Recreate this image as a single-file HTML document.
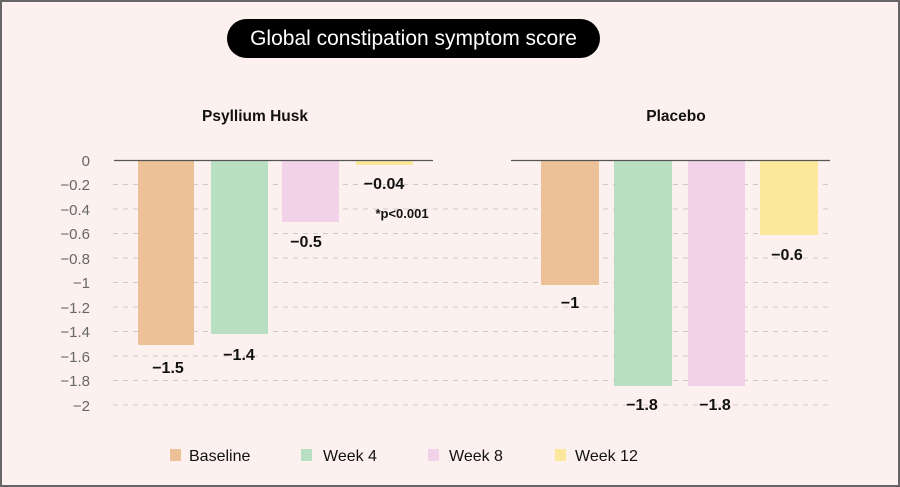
<!DOCTYPE html>
<html><head><meta charset="utf-8"><style>
html,body{margin:0;padding:0;}
body{width:900px;height:487px;overflow:hidden;background:#fdf1ef;}
svg{display:block;font-family:"Liberation Sans",sans-serif;}
</style></head><body>
<svg width="900" height="487" viewBox="0 0 900 487" xmlns="http://www.w3.org/2000/svg">
<rect x="1" y="1" width="898" height="485" fill="#fdf1ef" stroke="#666" stroke-width="2"/>
<rect x="227" y="19" width="373" height="39" rx="19.5" fill="#000"/>
<text x="413.5" y="45" font-size="21" fill="#fff" text-anchor="middle">Global constipation symptom score</text>
<text x="255" y="121" font-size="15.5" font-weight="bold" text-anchor="middle" fill="#111">Psyllium Husk</text>
<text x="676" y="121" font-size="15.5" font-weight="bold" text-anchor="middle" fill="#111">Placebo</text>
<g stroke="#cfcaca" stroke-width="1" stroke-dasharray="5,5">
<line x1="113" x2="831" y1="184.5" y2="184.5"/>
<line x1="113" x2="831" y1="209" y2="209"/>
<line x1="113" x2="831" y1="233.5" y2="233.5"/>
<line x1="113" x2="831" y1="258" y2="258"/>
<line x1="113" x2="831" y1="282.5" y2="282.5"/>
<line x1="113" x2="831" y1="307" y2="307"/>
<line x1="113" x2="831" y1="331.5" y2="331.5"/>
<line x1="113" x2="831" y1="356" y2="356"/>
<line x1="113" x2="831" y1="380.5" y2="380.5"/>
<line x1="113" x2="831" y1="405" y2="405"/>
</g>
<g font-size="15" fill="#666" text-anchor="end">
<text x="90" y="166">0</text>
<text x="90" y="190">−0.2</text>
<text x="90" y="215">−0.4</text>
<text x="90" y="239">−0.6</text>
<text x="90" y="264">−0.8</text>
<text x="90" y="288">−1</text>
<text x="90" y="313">−1.2</text>
<text x="90" y="337">−1.4</text>
<text x="90" y="362">−1.6</text>
<text x="90" y="386">−1.8</text>
<text x="90" y="411">−2</text>
</g>
<rect x="138" y="160" width="56" height="185" fill="#ecc197"/>
<rect x="211" y="160" width="57" height="174" fill="#b8dfc1"/>
<rect x="282" y="160" width="57" height="62" fill="#f1d2e8"/>
<rect x="356" y="160" width="57" height="5" fill="#fce89a"/>
<rect x="541" y="160" width="58" height="125" fill="#ecc197"/>
<rect x="614" y="160" width="58" height="226" fill="#b8dfc1"/>
<rect x="688" y="160" width="57" height="226" fill="#f1d2e8"/>
<rect x="760" y="160" width="58" height="75" fill="#fce89a"/>
<line x1="114" x2="433" y1="160.5" y2="160.5" stroke="#555" stroke-width="1.3"/>
<line x1="511" x2="830" y1="160.5" y2="160.5" stroke="#555" stroke-width="1.3"/>
<g font-size="16" font-weight="bold" fill="#111" text-anchor="middle">
<text x="168" y="373">−1.5</text>
<text x="239" y="360">−1.4</text>
<text x="306" y="247">−0.5</text>
<text x="384" y="189">−0.04</text>
<text x="570" y="308">−1</text>
<text x="642" y="410">−1.8</text>
<text x="715" y="410">−1.8</text>
<text x="787" y="260">−0.6</text>
</g>
<text x="402" y="218" font-size="13" font-weight="bold" fill="#111" text-anchor="middle">*p&lt;0.001</text>
<rect x="170" y="449" width="11" height="12" fill="#ecc197"/>
<rect x="301" y="449" width="11" height="12" fill="#b8dfc1"/>
<rect x="428" y="449" width="11" height="12" fill="#f1d2e8"/>
<rect x="555" y="449" width="11" height="12" fill="#fce89a"/>
<g font-size="16" fill="#111">
<text x="189" y="461">Baseline</text>
<text x="323" y="461">Week 4</text>
<text x="449" y="461">Week 8</text>
<text x="575" y="461">Week 12</text>
</g>
</svg>
</body></html>
